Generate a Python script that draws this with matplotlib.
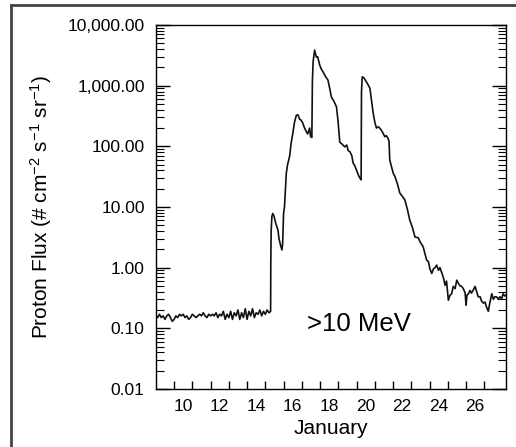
import matplotlib
matplotlib.use("Agg")
import numpy as np
from matplotlib import pyplot as plt
from matplotlib.lines import Line2D
from matplotlib.ticker import FixedLocator, NullFormatter

plt.rcParams['font.family'] = ['Liberation Sans', 'DejaVu Sans']
plt.rcParams['mathtext.fontset'] = 'custom'
plt.rcParams['mathtext.rm'] = 'Liberation Sans'
plt.rcParams['mathtext.it'] = 'Liberation Sans'

# quiet background before the event, one value every 0.1 day from Jan 9.0
base_start = 9.0
base_flux = [0.16, 0.15, 0.17, 0.15, 0.16, 0.14, 0.16, 0.17, 0.15, 0.13,
             0.14, 0.16, 0.15, 0.17, 0.16, 0.17, 0.15, 0.16, 0.14, 0.15,
             0.17, 0.16, 0.15, 0.16, 0.17, 0.16, 0.18, 0.16, 0.15, 0.17,
             0.16, 0.17, 0.16, 0.18, 0.15, 0.17, 0.16, 0.19, 0.14, 0.17,
             0.15, 0.19, 0.14, 0.18, 0.16, 0.20, 0.14, 0.18, 0.15, 0.21,
             0.14, 0.19, 0.16, 0.21, 0.15, 0.18, 0.17, 0.20, 0.16, 0.19,
             0.17, 0.20, 0.18]

# the event (day of January, flux)
event_day = [15.29, 15.30, 15.32, 15.36, 15.41, 15.48, 15.56, 15.69, 15.75, 15.84,
             15.91, 15.95, 16.00, 16.05, 16.15, 16.22, 16.33, 16.41, 16.51, 16.60,
             16.70, 16.79, 16.88, 16.96, 17.04, 17.15, 17.25, 17.32, 17.43, 17.48,
             17.55, 17.58, 17.62, 17.70, 17.76, 17.80, 17.87, 17.98, 18.06, 18.16,
             18.31, 18.43, 18.53, 18.62, 18.75, 18.90, 18.99, 19.08, 19.19, 19.35,
             19.46, 19.54, 19.63, 19.74, 19.81, 19.90, 19.99, 20.09, 20.18, 20.25,
             20.27, 20.31, 20.40, 20.54, 20.62, 20.73, 20.81, 20.91, 21.00, 21.09,
             21.19, 21.27, 21.38, 21.55, 21.63, 21.73, 21.78, 21.82, 22.01, 22.10,
             22.24, 22.37, 22.51, 22.65, 22.79, 22.92, 23.06, 23.20, 23.38, 23.50,
             23.65, 23.75, 23.84, 23.94, 24.02, 24.12, 24.21, 24.30, 24.39, 24.49,
             24.57, 24.65, 24.75, 24.85, 24.93, 25.03, 25.12, 25.21, 25.30, 25.40,
             25.49, 25.58, 25.67, 25.76, 25.85, 25.95, 26.00, 26.05, 26.13, 26.22,
             26.30, 26.40, 26.49, 26.58, 26.67, 26.77, 26.85, 26.95, 27.04, 27.13,
             27.22, 27.29, 27.41, 27.50, 27.58, 27.67, 27.77, 27.85, 27.96, 28.03,
             28.12, 28.18]
event_flux = [0.19, 1.2, 4.0, 7.0, 7.8, 7.0, 5.5, 4.2, 3.0, 2.3,
              1.95, 2.5, 7.8, 10, 36, 50, 68, 110, 166, 250,
              325, 330, 280, 270, 246, 200, 174, 160, 200, 144,
              140, 1200, 2500, 3850, 3300, 2950, 3000, 2190, 1900, 1690,
              1400, 1240, 900, 650, 560, 448, 250, 117, 110, 98,
              105, 85, 82, 70, 53, 48, 41, 34, 30, 28,
              800, 1400, 1350, 1150, 1050, 910, 600, 355, 250, 200,
              210, 200, 180, 144, 150, 135, 120, 59, 36, 32,
              24, 17, 15, 13, 9, 6, 4.6, 3.2, 3.1, 2.6,
              2.2, 1.7, 1.33, 1.25, 0.95, 0.8, 0.95, 1.0, 1.1, 0.9,
              1.0, 0.85, 0.7, 0.51, 0.6, 0.29, 0.35, 0.37, 0.49, 0.45,
              0.62, 0.55, 0.5, 0.49, 0.45, 0.38, 0.24, 0.35, 0.37, 0.42,
              0.38, 0.43, 0.49, 0.40, 0.33, 0.33, 0.28, 0.26, 0.27, 0.22,
              0.19, 0.25, 0.37, 0.30, 0.33, 0.33, 0.30, 0.33, 0.31, 0.37,
              0.34, 0.35]

y_ticks = [0.01, 0.1, 1, 10, 100, 1000, 10000]
y_labels = ["0.01", "0.10", "1.00", "10.00", "100.00", "1,000.00", "10,000.00"]
x_label_days = [10, 12, 14, 16, 18, 20, 22, 24, 26]

base_day = base_start + 0.1 * np.arange(len(base_flux))
day = np.concatenate([base_day, event_day])
flux = np.concatenate([base_flux, event_flux])

fig = plt.figure(figsize=(5.16, 4.47), dpi=100)
ax = fig.add_axes([0.302, 0.130, 0.679, 0.814])

ax.plot(day, flux, color='#111111', lw=1.2)

ax.set_yscale('log')
ax.set_ylim(0.01, 10000)
ax.set_xlim(9.0, 28.2)

# y axis: ticks inward on left and right
ax.set_yticks(y_ticks)
ax.set_yticklabels(y_labels, fontsize=12.5)
ax.yaxis.set_minor_locator(FixedLocator([m * 10.0 ** e for e in range(-2, 4) for m in range(2, 10)]))
ax.yaxis.set_minor_formatter(NullFormatter())
ax.tick_params(axis='y', which='major', direction='in', length=10, width=1, left=True, right=True, pad=8)
ax.tick_params(axis='y', which='minor', direction='in', length=6, width=0.8, left=True, right=True)

# x axis: ticks at day boundaries, labels at day centres
ax.set_xticks(np.arange(10, 28))
ax.set_xticklabels([])
ax.set_xticks([d + 0.5 for d in x_label_days], minor=True)
ax.set_xticklabels([str(d) for d in x_label_days], minor=True, fontsize=12.5)
ax.tick_params(axis='x', which='major', direction='in', length=6, width=1, top=False)
ax.tick_params(axis='x', which='minor', length=0, pad=7, top=False)

ax.set_xlabel("January", fontsize=15, labelpad=4)
ax.set_ylabel(r"Proton Flux (# cm$^{-2}$ s$^{-1}$ sr$^{-1}$)", fontsize=15, labelpad=10)

ax.text(20.12, 0.117, ">10 MeV", fontsize=18.5, ha='center', va='center')

for s in ax.spines.values():
    s.set_linewidth(1)

# outer frame (clipped at the right and bottom edges)
fig.add_artist(Line2D([10.5 / 516, 10.5 / 516], [0, 1 - 4.5 / 447], color='#444444', lw=2))
fig.add_artist(Line2D([10.5 / 516, 1], [1 - 4.5 / 447, 1 - 4.5 / 447], color='#444444', lw=2))

fig.savefig("out.png", dpi=100)
